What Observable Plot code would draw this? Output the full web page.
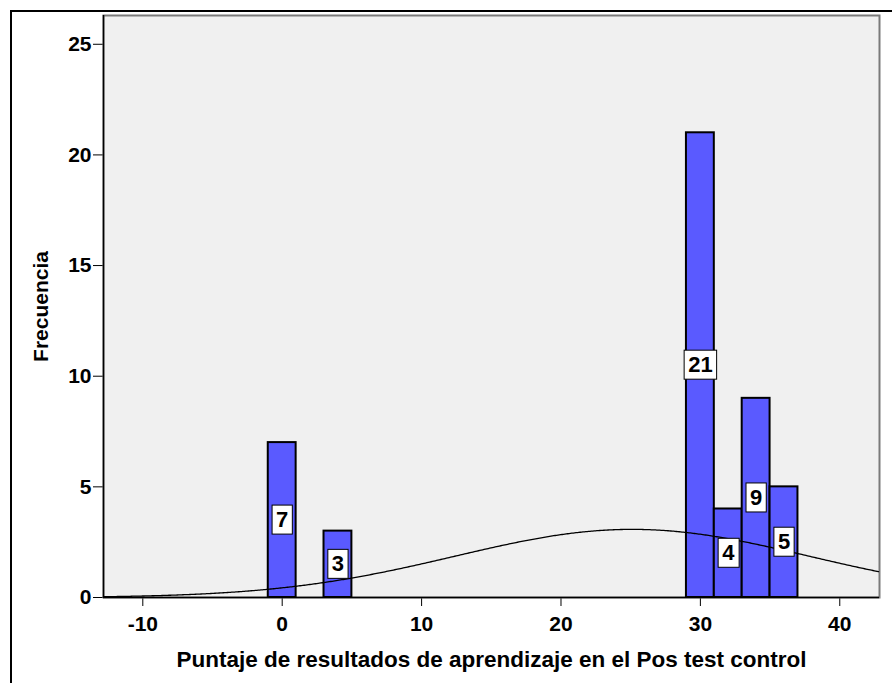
<!DOCTYPE html>
<html>
<head>
<meta charset="utf-8">
<script src="https://cdn.jsdelivr.net/npm/d3@7"></script>
<script src="https://cdn.jsdelivr.net/npm/@observablehq/plot@0.6"></script>
<style>
  html, body { margin: 0; padding: 0; background: white; }
  #wrap { position: relative; width: 892px; height: 683px; overflow: hidden; }
  #border { position: absolute; left: 10px; top: 10px; width: 900px; height: 700px;
            border-top: 2px solid #000; border-left: 2px solid #000; pointer-events: none; }
</style>
</head>
<body>
<div id="wrap"><div id="border"></div></div>
<script>
// ---- data ----
const binStart = [-1, 3, 29, 31, 33, 35];
const binEnd   = [1, 5, 31, 33, 35, 37];
const frequency = [7, 3, 21, 4, 9, 5];
const xTicks = [-10, 0, 10, 20, 30, 40];
const yTicks = [0, 5, 10, 15, 20, 25];
const xDomain = [-12.82, 42.85];
const yDomain = [0, 26.3];
// fitted normal curve parameters (SPSS normal overlay)
const curveMean = 25.1;
const curveSd = 12.7;
const curveN = 49;
const binWidth = 2;
const xTitle = "Puntaje de resultados de aprendizaje en el Pos test control";
const yTitle = "Frecuencia";

const bars = frequency.map((f, i) => ({x1: binStart[i], x2: binEnd[i], f}));
const curve = d3.range(xDomain[0], xDomain[1] + 0.001, 0.1).map(x => ({
  x,
  y: curveN * binWidth / (curveSd * Math.sqrt(2 * Math.PI)) *
     Math.exp(-0.5 * ((x - curveMean) / curveSd) ** 2)
}));

const chart = Plot.plot({
  width: 892,
  height: 683,
  marginLeft: 103,
  marginRight: 13,
  marginTop: 15,
  marginBottom: 86,
  style: {background: "transparent", fontFamily: "'Liberation Sans', Arial, sans-serif", fontSize: "21px", fontWeight: "bold", color: "#000"},
  x: {domain: xDomain, ticks: xTicks, tickFormat: d => String(d), tickSize: 9, tickPadding: 10, label: null},
  y: {domain: yDomain, ticks: yTicks, tickFormat: d => String(d), tickSize: 10, tickPadding: 2, label: null},
  marks: [
    Plot.frame({fill: "#f0f0f0", stroke: "#7a7a7a", strokeWidth: 2}),
    Plot.rectY(bars, {x1: "x1", x2: "x2", y: "f", fill: "#5a5aff", stroke: "#000", strokeWidth: 2}),
    Plot.line(curve, {x: "x", y: "y", stroke: "#000", strokeWidth: 1.3}),
    Plot.text(bars, {ariaLabel: d => "value label", x: d => (d.x1 + d.x2) / 2, y: d => d.f / 2, text: d => String(d.f),
      fontSize: 22, fontWeight: "bold", fill: "#000"}),
    Plot.ruleY([0], {stroke: "#000", strokeWidth: 1.5}),
    Plot.ruleX([xDomain[0]], {stroke: "#000", strokeWidth: 1.5}),
    Plot.text([xTitle], {text: d => d, frameAnchor: "bottom", lineAnchor: "middle", textAnchor: "middle", dy: 62, fontSize: 22.5, fontWeight: "bold", fill: "#000"}),
    Plot.text([yTitle], {text: d => d, frameAnchor: "left", lineAnchor: "middle", textAnchor: "middle", dx: -62, rotate: -90, fontSize: 21, fontWeight: "bold", fill: "#000"})
  ]
});
chart.style.position = "absolute";
chart.style.left = "0px";
chart.style.top = "0px";
document.getElementById("wrap").prepend(chart);

// draw white boxes behind the value labels
chart.querySelectorAll('text[aria-label="value label"]').forEach(t => {
  const b = t.getBBox();
  const r = document.createElementNS("http://www.w3.org/2000/svg", "rect");
  r.setAttribute("x", b.x - 4);
  r.setAttribute("y", b.y - 2);
  r.setAttribute("width", b.width + 8);
  r.setAttribute("height", b.height + 4);
  r.setAttribute("fill", "#fff");
  r.setAttribute("stroke", "#000");
  r.setAttribute("stroke-width", 1);
  const tr = t.getAttribute("transform");
  if (tr) r.setAttribute("transform", tr);
  t.parentNode.insertBefore(r, t);
});
</script>
</body>
</html>
